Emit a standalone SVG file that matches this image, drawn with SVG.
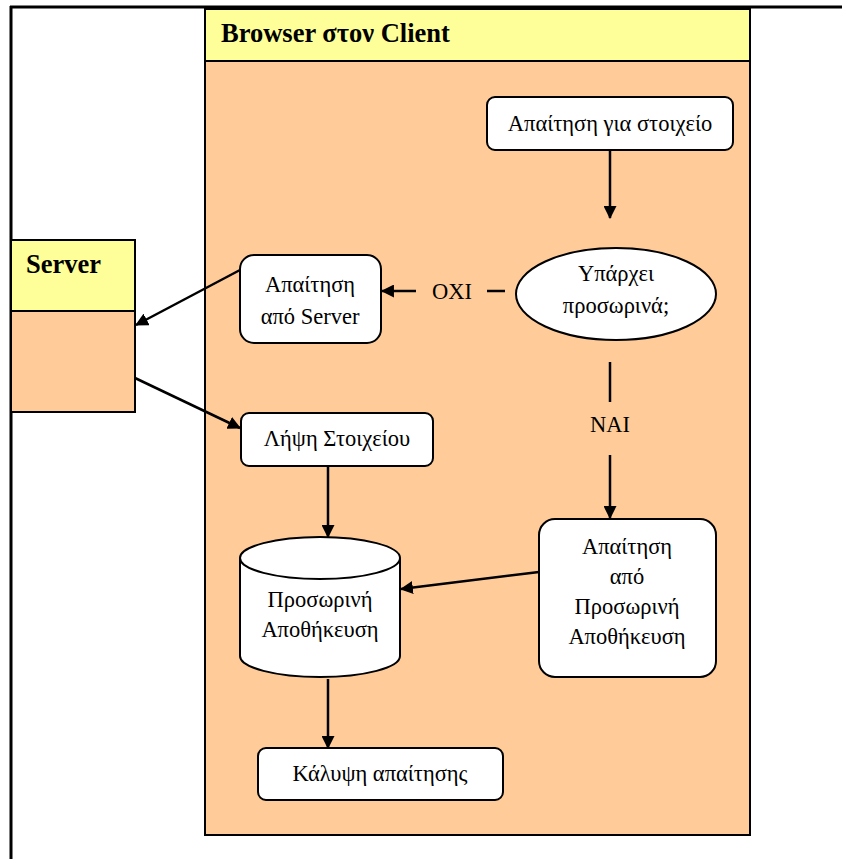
<svg xmlns="http://www.w3.org/2000/svg" width="842" height="859" viewBox="0 0 842 859">
  <style>
    .t { font-family: 'Liberation Serif', serif; font-size: 22.5px; fill: #000; text-anchor: middle; }
    .h { font-family: 'Liberation Serif', serif; font-size: 26.5px; font-weight: bold; fill: #000; }
    .box { fill: #fff; stroke: #000; stroke-width: 2; }
    .head { fill: #FFFF99; stroke: #000; stroke-width: 2; }
    .body { fill: #FFCC99; stroke: #000; stroke-width: 2; }
    .edge { fill: none; stroke: #000; stroke-width: 2.5; }
  </style>
  <defs>
    <marker id="arrow" viewBox="0 0 12 12" refX="11" refY="6" markerWidth="13" markerHeight="13" markerUnits="userSpaceOnUse" orient="auto">
      <path d="M0,0 L12,6 L0,12 Z" fill="#000"/>
    </marker>
  </defs>

  <rect width="842" height="859" fill="#fff"/>

  <!-- page frame -->
  <g id="frame">
    <line x1="10" y1="7" x2="842" y2="7" stroke="#000" stroke-width="3"/>
    <line x1="11" y1="6" x2="11" y2="859" stroke="#000" stroke-width="3"/>
  </g>

  <!-- client swimlane -->
  <g id="client">
    <rect class="body" x="205" y="9" width="545" height="826"/>
    <rect class="head" x="205" y="9" width="545" height="52"/>
    <text class="h" x="221" y="42">Browser στον Client</text>
  </g>

  <!-- server swimlane -->
  <g id="server">
    <rect class="body" x="11" y="240" width="124" height="172"/>
    <rect class="head" x="11" y="240" width="124" height="71"/>
    <text class="h" x="26" y="273">Server</text>
  </g>

  <g id="request-item">
    <rect class="box" x="487" y="97" width="246" height="53" rx="8"/>
    <text class="t" x="610" y="131">Απαίτηση για στοιχείο</text>
  </g>

  <g id="cached-check">
    <ellipse class="box" cx="616" cy="294" rx="100" ry="46"/>
    <text class="t" x="616" y="281">Υπάρχει</text>
    <text class="t" x="616" y="313">προσωρινά;</text>
  </g>

  <g id="request-server">
    <rect class="box" x="240" y="255" width="141" height="88" rx="14"/>
    <text class="t" x="310" y="292">Απαίτηση</text>
    <text class="t" x="310" y="324">από Server</text>
  </g>

  <g id="receive-item">
    <rect class="box" x="241" y="413" width="192" height="53" rx="8"/>
    <text class="t" x="337" y="446">Λήψη Στοιχείου</text>
  </g>

  <g id="cache-store">
    <path class="box" d="M240,558 L240,656 A80,21 0 0 0 400,656 L400,558 A80,21 0 0 0 240,558 Z"/>
    <path class="box" d="M240,558 A80,21 0 0 0 400,558"/>
    <text class="t" x="320" y="607">Προσωρινή</text>
    <text class="t" x="320" y="637">Αποθήκευση</text>
  </g>

  <g id="request-cache">
    <rect class="box" x="539" y="519" width="177" height="158" rx="16"/>
    <text class="t" x="627" y="554">Απαίτηση</text>
    <text class="t" x="627" y="584">από</text>
    <text class="t" x="627" y="614">Προσωρινή</text>
    <text class="t" x="627" y="644">Αποθήκευση</text>
  </g>

  <g id="serve-request">
    <rect class="box" x="258" y="748" width="245" height="52" rx="8"/>
    <text class="t" x="380" y="781">Κάλυψη απαίτησης</text>
  </g>

  <!-- connectors -->
  <g id="connectors">
    <line class="edge" x1="240" y1="270" x2="136" y2="325" marker-end="url(#arrow)"/>
    <line class="edge" x1="135" y1="378" x2="240" y2="428" marker-end="url(#arrow)"/>
    <line class="edge" x1="610" y1="150" x2="610" y2="218" marker-end="url(#arrow)"/>
    <line class="edge" x1="505" y1="291" x2="487" y2="291"/>
    <line class="edge" x1="416" y1="291" x2="382" y2="291" marker-end="url(#arrow)"/>
    <text class="t" x="452" y="299">ΟΧΙ</text>
    <line class="edge" x1="610" y1="362" x2="610" y2="402"/>
    <text class="t" x="610" y="432">ΝΑΙ</text>
    <line class="edge" x1="610" y1="455" x2="610" y2="518" marker-end="url(#arrow)"/>
    <line class="edge" x1="328" y1="466" x2="328" y2="537" marker-end="url(#arrow)"/>
    <line class="edge" x1="539" y1="572" x2="401" y2="589" marker-end="url(#arrow)"/>
    <line class="edge" x1="328" y1="679" x2="328" y2="748" marker-end="url(#arrow)"/>
  </g>
</svg>
